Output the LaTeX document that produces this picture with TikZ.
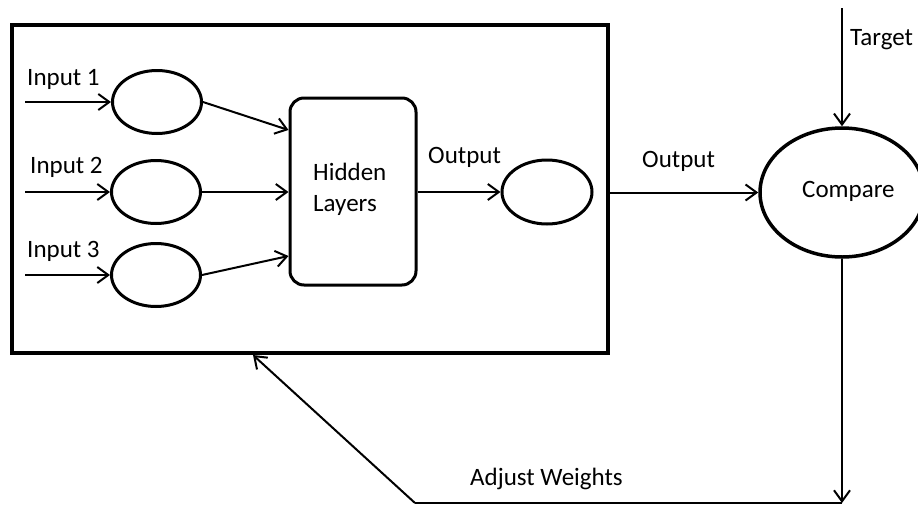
\documentclass[tikz,border=0pt]{standalone}
\usepackage{fontspec}
\setmainfont{Carlito}
\usetikzlibrary{arrows.meta,shapes.geometric}
\begin{document}
\begin{tikzpicture}[x=1pt,y=-1pt,
  every node/.style={font=\fontsize{25}{31}\selectfont},
  conn/.style={line width=2pt,-{Straight Barb[length=11pt,width=16pt,line width=2pt]}},
  plain/.style={line width=2pt},
  neuron/.style={ellipse,draw,line width=3pt,inner sep=0pt},
  lbl/.style={anchor=base west,inner sep=0pt}]
\clip (0,0) rectangle (918,509);
\fill[white] (0,0) rectangle (918,509);
% network box
\node[draw,line width=4pt,inner sep=0pt,minimum width=596pt,minimum height=328pt] (net) at (310,189) {};
% input neurons
\node[neuron,minimum width=89pt,minimum height=63pt] (i1) at (157,102) {};
\node[neuron,minimum width=89pt,minimum height=63pt] (i2) at (156,192) {};
\node[neuron,minimum width=89pt,minimum height=63pt] (i3) at (156,275) {};
\coordinate (s1) at (25,102);
\coordinate (s2) at (25,192);
\coordinate (s3) at (25,275);
\draw[conn] (s1) -- (i1);
\draw[conn] (s2) -- (i2);
\draw[conn] (s3) -- (i3);
\node[lbl] (l1) at (27,85) {Input 1};
\node[lbl] (l2) at (30,173) {Input 2};
\node[lbl] (l3) at (27,257) {Input 3};
% hidden layers
\node[draw,line width=3pt,rounded corners=14pt,minimum width=126pt,minimum height=187pt,inner sep=0pt] (hid) at (353,191.5) {};
\node[lbl,align=left,anchor=north west] (hidt) at (313,163) {Hidden\\Layers};
\draw[conn] (i1.east) -- (hid.west |- 0,130);
\draw[conn] (i2.east) -- (hid.west |- i2);
\draw[conn] (i3.east) -- (hid.west |- 0,256);
% output neuron
\node[neuron,minimum width=90pt,minimum height=64pt] (out) at (547,192) {};
\draw[conn] (hid.east |- out) -- (out.west);
\node[lbl] (ol1) at (428,163) {Output};
% compare
\node[neuron,line width=3.5pt,minimum width=164pt,minimum height=129pt] (cmp) at (842,192.5) {};
\node[lbl] (cmpt) at (802,197) {Compare};
\draw[conn] (net.east |- cmp) -- (cmp.west);
\node[lbl] (ol2) at (642,167) {Output};
\coordinate (tg) at (842,8);
\draw[conn] (tg) -- (cmp.north);
\node[lbl] (tgl) at (850,45) {Target};
% feedback
\coordinate (fb1) at (842,503);
\coordinate (fb2) at (415,503);
\coordinate (fb3) at (253,355);
\draw[conn] (cmp.south) -- (fb1);
\draw[plain] (fb1) -- (fb2);
\draw[conn] (fb2) -- (net.south -| fb3);
\node[lbl] (aw) at (470,485) {Adjust Weights};
\end{tikzpicture}
\end{document}
